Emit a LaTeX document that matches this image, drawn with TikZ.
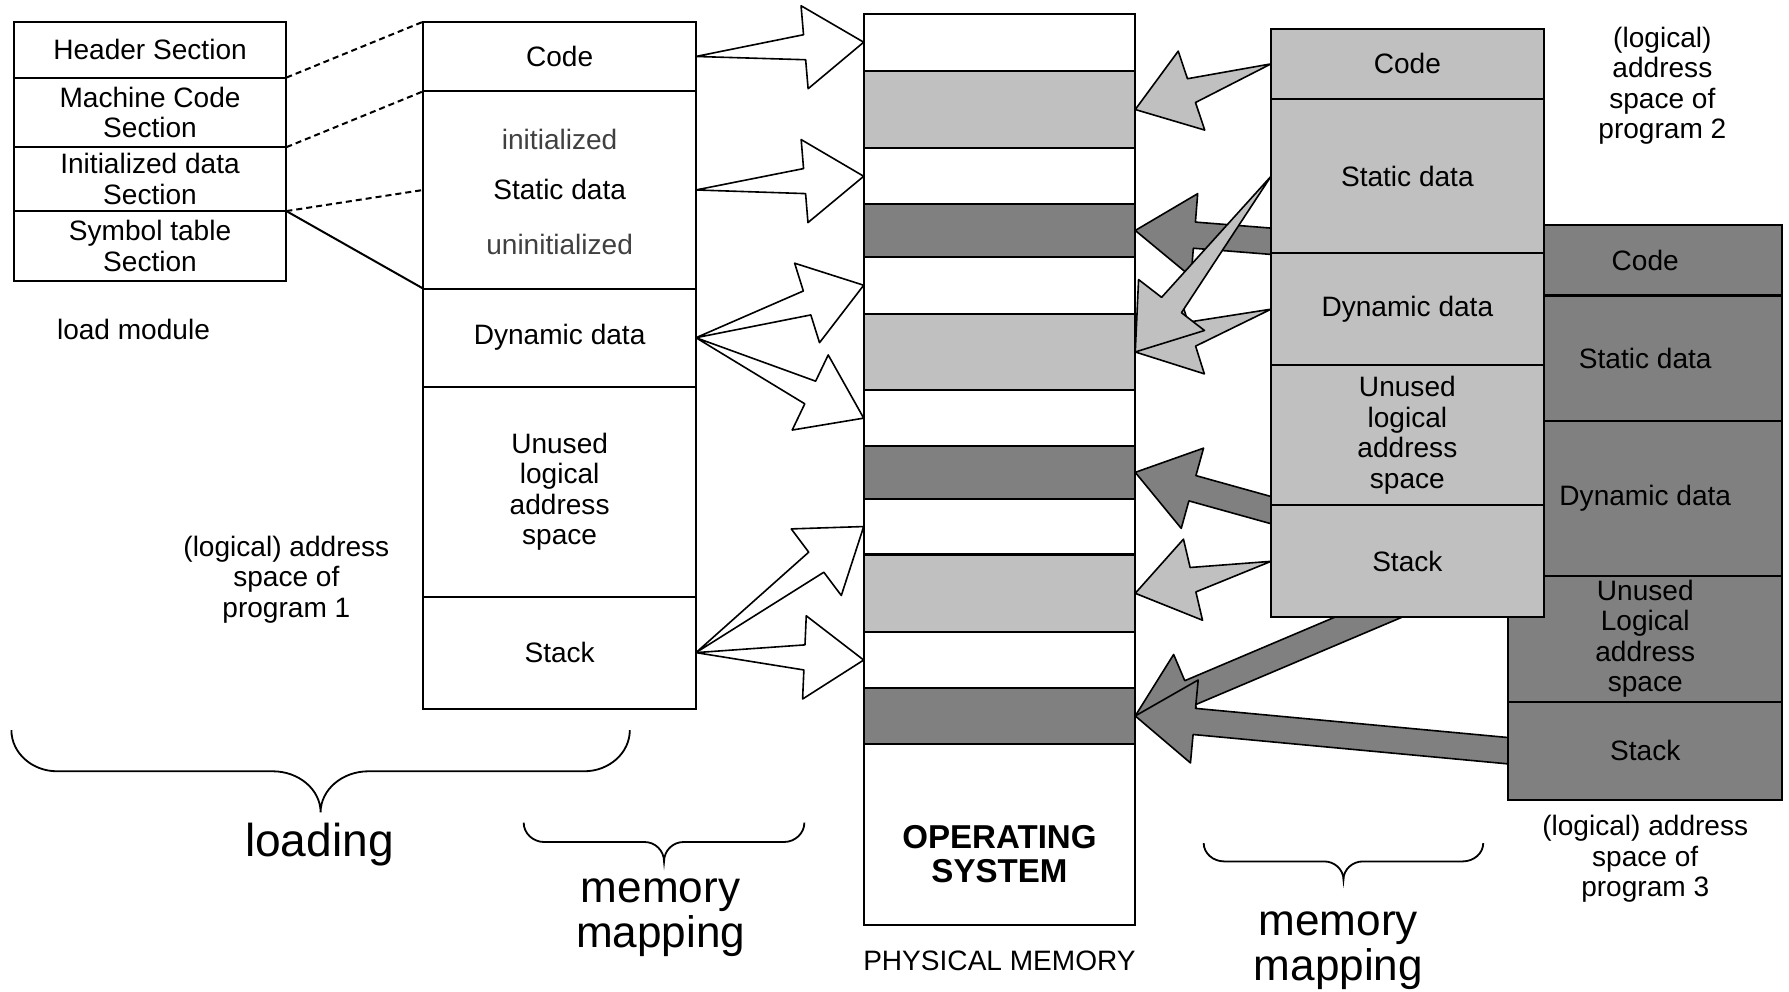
\documentclass[tikz,border=0pt]{standalone}
\usepackage{fontspec}
\setmainfont{Liberation Sans}
\usetikzlibrary{calc,positioning,backgrounds}
\definecolor{LightClr}{RGB}{192,192,192}
\definecolor{DarkClr}{RGB}{128,128,128}
\definecolor{TextClr}{RGB}{64,64,64}
\newcommand\pxu{0.2mm}

\tikzset{
  sect/.style={draw, line width=1pt, outer sep=0pt, inner sep=1pt,
    minimum width=239*\pxu, align=center, font=\fontsize{14}{15.2}\selectfont},
  band/.style={sect, minimum width=238*\pxu},
  lbl/.style={align=center, inner sep=1pt, font=\fontsize{14}{15.2}\selectfont},
  biglbl/.style={align=center, inner sep=1pt, font=\fontsize{22}{22.5}\selectfont},
  maparr/.style={draw, line width=0.8pt, line join=round},
  linkline/.style={line width=1pt},
  dashlink/.style={linkline, dash pattern=on 3pt off 2pt},
  bracestyle/.style={line width=0.9pt}
}

% sharp tailed arrow: fill, tail, tip
\newcommand\MapArrow[3][white]{%
  \path (#3) coordinate (ArTip) ($(#3)!10.4mm!(#2)$) coordinate (ArBase);
  \draw[maparr, fill=#1] (#2) -- ($(ArBase)!2.2mm!90:(ArTip)$)
    -- ($(ArBase)!7.3mm!90:(ArTip)$) -- (ArTip)
    -- ($(ArBase)!7.3mm!-90:(ArTip)$) -- ($(ArBase)!2.2mm!-90:(ArTip)$) -- cycle;
}
% block arrow with a straight shaft
\newcommand\BlockArrow[3][DarkClr]{%
  \path (#3) coordinate (ArTip) (#2) coordinate (ArFrom);
  \path ($(ArTip)!10.4mm!(ArFrom)$) coordinate (ArBase)
        ($(ArFrom)!-2mm!(ArTip)$) coordinate (ArTail);
  \draw[maparr, fill=#1] ($(ArTail)!2.3mm!90:(ArTip)$) -- ($(ArBase)!2.3mm!90:(ArTip)$)
    -- ($(ArBase)!7.3mm!90:(ArTip)$) -- (ArTip)
    -- ($(ArBase)!7.3mm!-90:(ArTip)$) -- ($(ArBase)!2.3mm!-90:(ArTip)$)
    -- ($(ArTail)!2.3mm!-90:(ArTip)$) -- cycle;
}
% brace opening upwards: left x, right x, top y, half depth, end arm, middle arm, tip name
\newcommand\OpenBrace[7]{%
  \pgfmathsetmacro\BrMid{(#1+#2)/2}
  \draw[bracestyle] (#1,#3) .. controls (#1,{#3+0.55*#4}) and ({#1+0.45*#5},{#3+#4}) .. ({#1+#5},{#3+#4})
    -- ({\BrMid-#6},{#3+#4}) .. controls ({\BrMid-0.45*#6},{#3+#4}) and (\BrMid,{#3+1.45*#4}) .. (\BrMid,{#3+2*#4}) coordinate (#7)
    .. controls (\BrMid,{#3+1.45*#4}) and ({\BrMid+0.45*#6},{#3+#4}) .. ({\BrMid+#6},{#3+#4})
    -- ({#2-#5},{#3+#4}) .. controls ({#2-0.45*#5},{#3+#4}) and (#2,{#3+0.55*#4}) .. (#2,#3);
}

\begin{document}
\begin{tikzpicture}[x=0.2mm, y=-0.2mm]
\useasboundingbox (0,0) rectangle (1568,869);

% physical memory
\node[band, minimum height=50*\pxu, fill=white, anchor=north west] (b1) at (757,12) {};
\foreach \bname/\bprev/\bhgt/\bclr in {b2/b1/68/LightClr, b3/b2/49/white, b4/b3/46/DarkClr,
    b5/b4/50/white, b6/b5/67/LightClr, b7/b6/49/white, b8/b7/46/DarkClr, b9/b8/49/white,
    b10/b9/68/LightClr, b11/b10/49/white, b12/b11/49/DarkClr, os/b12/159/white}
  \node[band, minimum height=\bhgt*\pxu, fill=\bclr, below=0pt of \bprev] (\bname) {};
\node[align=center, font=\fontsize{16.5}{17}\selectfont\bfseries] (ostext) at ($(os.center)+(0,17)$) {OPERATING\\SYSTEM};
\node[lbl, below=11.5pt of os] (physlbl) {PHYSICAL MEMORY};

% program 1
\node[sect, minimum height=61*\pxu, anchor=north west] (code1) at (371,19) {Code};
\node[sect, minimum height=173*\pxu, below=0pt of code1] (static1) {Static data};
\node[sect, minimum height=86*\pxu, below=0pt of static1] (dyn1) {Dynamic data};
\node[sect, minimum height=184*\pxu, below=0pt of dyn1] (unused1) {Unused\\logical\\address\\space};
\node[sect, minimum height=98*\pxu, below=0pt of unused1] (stack1) {Stack};
\node[lbl, text=TextClr] (init1) at ($(static1.center)+(0,-44)$) {initialized};
\node[lbl, text=TextClr] (uninit1) at ($(static1.center)+(0,48)$) {uninitialized};
\node[lbl] (prog1lbl) at (251,508) {(logical) address\\space of\\program 1};

% load module
\node[sect, minimum height=49*\pxu, anchor=north west] (header) at (12,19) {Header Section};
\node[sect, minimum height=61*\pxu, below=0pt of header] (machine) {Machine Code\\Section};
\node[sect, minimum height=56*\pxu, below=0pt of machine] (initdata) {Initialized data\\Section};
\node[sect, minimum height=61*\pxu, below=0pt of initdata] (symtab) {Symbol table\\Section};
\node[lbl] (loadmod) at (117,289) {load module};

\draw[dashlink] (header.south east) -- (code1.north west);
\draw[dashlink] (machine.south east) -- (code1.south west);
\draw[dashlink] (initdata.south east) -- (static1.west);
\draw[linkline] (initdata.south east) -- (static1.south west);

\MapArrow{code1.east}{b1.west}
\MapArrow{static1.east}{b3.west}
\MapArrow{dyn1.east}{b5.west}
\MapArrow{dyn1.east}{b7.west}
\MapArrow{stack1.east}{b9.west}
\MapArrow{stack1.east}{b11.west}

% program 3
\node[sect, fill=DarkClr, minimum width=240*\pxu, minimum height=62*\pxu, anchor=north west] (code3) at (1322,197) {Code};
\node[sect, fill=DarkClr, minimum width=240*\pxu, minimum height=110*\pxu, below=0pt of code3] (static3) {Static data};
\node[sect, fill=DarkClr, minimum width=240*\pxu, minimum height=136*\pxu, below=0pt of static3] (dyn3) {Dynamic data};
\node[sect, fill=DarkClr, minimum width=240*\pxu, minimum height=110*\pxu, below=0pt of dyn3] (unused3) {Unused\\Logical\\address\\space};
\node[sect, fill=DarkClr, minimum width=240*\pxu, minimum height=86*\pxu, below=0pt of unused3] (stack3) {Stack};
\node[lbl] (prog3lbl) at (1442,753) {(logical) address\\space of\\program 3};
\coordinate (dyn3low) at ($(dyn3.south west)+(0,-16)$);

% program 2
\node[sect, fill=LightClr, minimum height=62*\pxu, anchor=north west] (code2) at (1114,25) {Code};
\node[sect, fill=LightClr, minimum height=135*\pxu, below=0pt of code2] (static2) {Static data};
\node[sect, fill=LightClr, minimum height=98*\pxu, below=0pt of static2] (dyn2) {Dynamic data};
\node[sect, fill=LightClr, minimum height=123*\pxu, below=0pt of dyn2] (unused2) {Unused\\logical\\address\\space};
\node[sect, fill=LightClr, minimum height=98*\pxu, below=0pt of unused2] (stack2) {Stack};
\node[lbl] (prog2lbl) at (1457,75) {(logical)\\address\\space of\\program 2};

\MapArrow[LightClr]{code2.west}{b2.east}
\MapArrow[LightClr]{dyn2.west}{b6.east}
\MapArrow[LightClr]{static2.west}{b6.east}
\MapArrow[LightClr]{stack2.west}{b10.east}

\begin{pgfonlayer}{background}
\BlockArrow{code3.west}{b4.east}
\BlockArrow{dyn3.south west}{b8.east}
\BlockArrow{dyn3low}{b12.east}
\BlockArrow{stack3.west}{b12.east}
\end{pgfonlayer}

% braces
\OpenBrace{10}{552}{640}{36}{40}{42}{loadtip}
\node[biglbl, font=\fontsize{23}{23}\selectfont] (loadlbl) at (280,740) {loading};
\OpenBrace{459}{705}{721}{17}{18}{17}{maptipA}
\node[biglbl] (mapA) at (579,804) {memory\\mapping};
\OpenBrace{1055}{1300}{739}{16}{18}{17}{maptipB}
\node[biglbl] (mapB) at (1173,833) {memory\\mapping};

\end{tikzpicture}
\end{document}
